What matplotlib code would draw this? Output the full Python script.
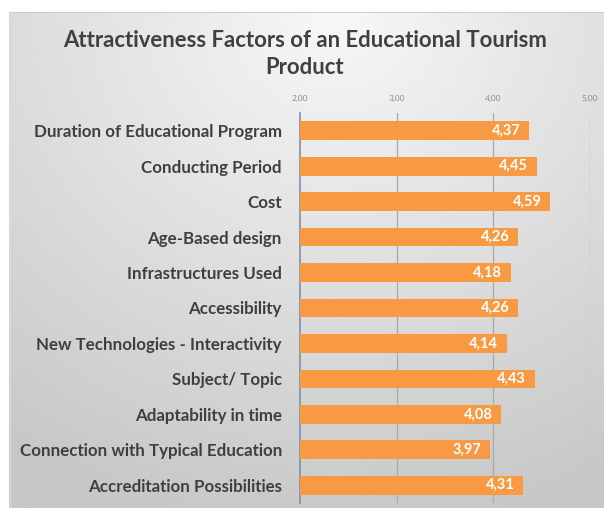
import numpy as np
import matplotlib
matplotlib.use("Agg")
import matplotlib.pyplot as plt
from matplotlib.ticker import FixedLocator, FuncFormatter

factors = [
    "Duration of Educational Program",
    "Conducting Period",
    "Cost",
    "Age-Based design",
    "Infrastructures Used",
    "Accessibility",
    "New Technologies - Interactivity",
    "Subject/ Topic",
    "Adaptability in time",
    "Connection with Typical Education",
    "Accreditation Possibilities",
]
scores = [4.37, 4.45, 4.59, 4.26, 4.18, 4.26, 4.14, 4.43, 4.08, 3.97, 4.31]
x_ticks = [2.0, 3.0, 4.0, 5.0]
title = "Attractiveness Factors of an Educational Tourism\nProduct"

plt.rcParams["font.family"] = ["Lato", "DejaVu Sans"]

W, H = 604, 508
fig = plt.figure(figsize=(W / 100, H / 100), dpi=100)
fig.patch.set_facecolor("white")

# gradient panel behind the chart
bg = fig.add_axes([9 / W, 0, 1 - 9 / W, (H - 12) / H])
bg.set_axis_off()
yy, xx = np.mgrid[0:1:200j, 0:1:200j]
r = np.sqrt(((xx - 0.55) * 1.1) ** 2 + (yy * 1.0) ** 2)
shade = np.clip(0.97 - 0.18 * r, 0.78, 0.97)
bg.imshow(shade, cmap="gray", vmin=0, vmax=1, aspect="auto",
          extent=[0, 1, 1, 0], origin="upper")
bg.plot([0, 1], [0.999, 0.999], color="#c8c8c8", lw=1.2, transform=bg.transAxes)
bg.plot([0.001, 0.001], [0, 1], color="#d8d8d8", lw=1.0, transform=bg.transAxes)

ax = fig.add_axes([300 / W, (H - 503) / H, (590 - 300) / W, (503 - 113) / H])
ax.set_facecolor("none")
y = np.arange(len(factors))
ax.barh(y, [s - x_ticks[0] for s in scores], left=x_ticks[0], height=0.53,
        color="#F79A43", zorder=3)
ax.set_xlim(x_ticks[0], x_ticks[-1])
ax.set_ylim(len(factors) - 0.5, -0.5)
ax.set_yticks(y)
ax.set_yticklabels(factors, fontsize=12.2, fontweight="bold", color="#3f3f3f")
ax.tick_params(axis="y", length=0, pad=13)
ax.xaxis.tick_top()
ax.xaxis.set_major_locator(FixedLocator(x_ticks))
ax.xaxis.set_major_formatter(FuncFormatter(lambda v, p: f"{v:.2f}".replace(".", ",")))
ax.tick_params(axis="x", length=0, labelsize=6, labelcolor="#8a8a8a", pad=8)
for v in x_ticks[1:]:
    ax.axvline(v, color="#a8a8a8", lw=0.9, zorder=1)
for side in ["top", "right", "bottom"]:
    ax.spines[side].set_visible(False)
ax.spines["left"].set_color("#8090a8")
ax.spines["left"].set_linewidth(1.2)

for yi, s in zip(y, scores):
    ax.text(s - 0.09, yi, f"{s:.2f}".replace(".", ","), ha="right", va="center",
            color="white", fontsize=10.5, fontweight="bold", zorder=4)

fig.text(305 / W, 1 - 54 / H, title, ha="center", va="center", fontsize=15.9,
         fontweight="bold", color="#404040", linespacing=1.3)

fig.savefig("out.png", dpi=100)
